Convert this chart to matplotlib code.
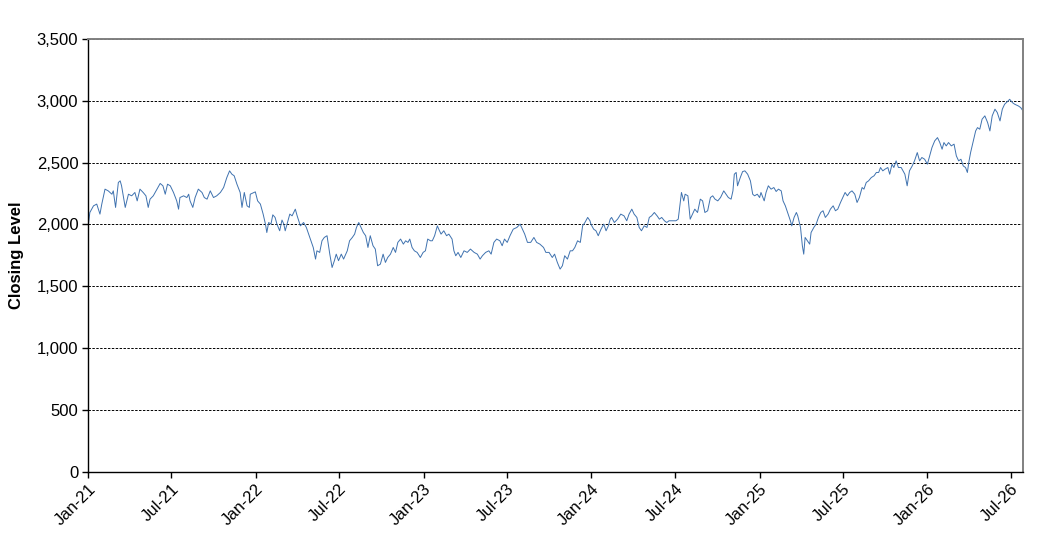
import matplotlib
matplotlib.use("Agg")
import matplotlib.pyplot as plt
from matplotlib.ticker import FuncFormatter
import pandas as pd
import numpy as np

plt.rcParams['font.family'] = ['Liberation Sans', 'DejaVu Sans']

start_date = "2021-01-01"
# days elapsed since start_date
days = [0, 4, 12, 19, 26, 30, 37, 44, 52, 55, 60, 66, 70, 73, 81, 88, 95, 102, 107, 113,
        120, 126, 131, 135, 142, 150, 157, 163, 168, 173, 179, 186, 193, 197, 200, 208, 215, 219, 222, 228,
        233, 240, 248, 253, 259, 266, 273, 280, 288, 295, 302, 308, 313, 318, 324, 331, 335, 340, 346, 351,
        353, 364, 369, 375, 381, 386, 389, 393, 398, 402, 407, 411, 417, 422, 426, 429, 434, 439, 444, 451,
        455, 462, 469, 475, 480, 485, 490, 495, 498, 504, 509, 514, 520, 526, 531, 536, 540, 545, 551, 556,
        564, 569, 575, 580, 584, 589, 594, 599, 604, 609, 614, 620, 625, 630, 636, 642, 647, 652, 658, 664,
        669, 674, 680, 686, 691, 696, 700, 705, 710, 716, 723, 729, 734, 739, 745,
        749, 754, 760, 763, 768, 774, 780, 785, 792, 796, 800, 805, 811, 818, 825, 832, 840, 847, 853, 858,
        865, 872, 877, 883, 889, 896, 901, 906, 912, 918, 925, 933, 940, 945, 950, 956, 963, 970, 976, 983,
        991, 996, 1003, 1010, 1015, 1021, 1027, 1032, 1037, 1043, 1049, 1054, 1059, 1065, 1071, 1076, 1081, 1087, 1092,
        1094, 1100, 1105, 1110, 1116, 1122, 1127, 1132, 1136, 1139, 1145, 1152, 1159, 1166, 1172, 1177, 1183, 1188, 1194, 1199,
        1204, 1210, 1216, 1221, 1226, 1232, 1238, 1243, 1248, 1254, 1259, 1264, 1272, 1279, 1284, 1288, 1291, 1296, 1299, 1305,
        1310, 1315, 1320, 1326, 1332, 1337, 1342, 1348, 1354, 1359, 1364, 1370, 1376, 1383, 1388, 1393, 1399, 1403, 1406, 1410,
        1413, 1419, 1424, 1429, 1435, 1441, 1446, 1450, 1456, 1461,
        1464, 1471, 1475, 1480, 1486, 1492, 1497, 1502, 1508, 1512, 1517, 1522, 1528, 1531, 1536, 1541, 1544, 1550, 1554, 1557,
        1560, 1565, 1570, 1573, 1579, 1584, 1589, 1594, 1599, 1604, 1610, 1615, 1621, 1626, 1631, 1637, 1642, 1647, 1652, 1657,
        1662, 1668, 1673, 1678, 1684, 1688, 1693, 1698, 1704, 1710, 1715, 1720, 1724, 1729, 1734, 1740, 1744, 1749, 1753, 1758,
        1763, 1769, 1777, 1782, 1787, 1793, 1798, 1804, 1809, 1814, 1820, 1826, 1831, 1836, 1842, 1848, 1853, 1858, 1862, 1867,
        1872, 1878, 1884, 1889, 1894, 1899, 1904, 1909, 1913, 1916, 1920, 1926, 1931, 1935, 1940, 1945, 1951, 1957, 1962, 1967,
        1973, 1978, 1984, 1989, 1994, 2000, 2005, 2011, 2016, 2024, 2029, 2034]

closing = [1975, 2096, 2150, 2164, 2083, 2164, 2285, 2271, 2244, 2271, 2137, 2339, 2352, 2312, 2137, 2244, 2231, 2258, 2190, 2285,
           2258, 2231, 2137, 2204, 2231, 2285, 2331, 2312, 2244, 2325, 2312, 2258, 2190, 2123, 2217, 2231, 2217, 2244, 2190, 2137,
           2217, 2285, 2258, 2217, 2204, 2271, 2217, 2231, 2258, 2298, 2379, 2433, 2406, 2393, 2325, 2258, 2137, 2258, 2150, 2137,
           2244, 2263, 2190, 2164, 2083, 2002, 1934, 2015, 2002, 2077, 2056, 2002, 1948, 2035, 2002, 1948, 2015, 2083, 2069, 2123,
           2069, 1988, 2015, 1975, 1921, 1867, 1813, 1719, 1786, 1773, 1867, 1894, 1908, 1759, 1651, 1706, 1759, 1706, 1759, 1719,
           1786, 1867, 1894, 1921, 1975, 2015, 1975, 1934, 1908, 1813, 1908, 1827, 1800, 1665, 1678, 1759, 1692, 1732, 1759, 1813,
           1773, 1854, 1881, 1840, 1867, 1854, 1881, 1813, 1786, 1773, 1732, 1773, 1786, 1881, 1867,
           1867, 1908, 1988, 1961, 1921, 1948, 1908, 1921, 1881, 1786, 1746, 1773, 1732, 1786, 1773, 1800, 1773, 1759, 1719, 1746,
           1773, 1786, 1759, 1854, 1881, 1867, 1827, 1881, 1854, 1908, 1961, 1975, 2002, 1961, 1921, 1854, 1854, 1894, 1854, 1840,
           1813, 1773, 1773, 1732, 1759, 1692, 1638, 1665, 1746, 1719, 1786, 1786, 1813, 1867, 1854, 1988, 2015, 2056, 2029,
           2002, 1961, 1948, 1908, 1961, 2002, 1948, 1988, 2042, 2056, 2015, 2042, 2083, 2069, 2029, 2083, 2123, 2083, 2056, 1975,
           1948, 1988, 1975, 2056, 2069, 2096, 2069, 2042, 2056, 2029, 2015, 2029, 2029, 2029, 2042, 2164, 2258, 2190, 2244, 2231,
           2042, 2083, 2123, 2096, 2204, 2190, 2096, 2110, 2217, 2231, 2204, 2190, 2217, 2271, 2244, 2217, 2204, 2271, 2406, 2420,
           2312, 2379, 2427, 2433, 2406, 2352, 2244, 2231, 2244, 2217,
           2258, 2190, 2258, 2312, 2285, 2298, 2266, 2285, 2271, 2190, 2150, 2096, 2029, 1988, 2056, 2096, 2069, 1975, 1827, 1759,
           1894, 1867, 1840, 1934, 1975, 2002, 2056, 2096, 2110, 2056, 2083, 2123, 2150, 2110, 2123, 2177, 2217, 2258, 2231, 2258,
           2271, 2244, 2177, 2217, 2298, 2285, 2339, 2352, 2379, 2393, 2420, 2420, 2460, 2433, 2447, 2460, 2406, 2487, 2460, 2514,
           2460, 2460, 2406, 2312, 2433, 2473, 2514, 2581, 2514, 2541, 2527, 2487, 2554, 2622, 2676, 2702, 2662, 2608, 2662, 2635,
           2662, 2635, 2649, 2554, 2514, 2527, 2473, 2460, 2420, 2500, 2581, 2676, 2756, 2783, 2770, 2851, 2878, 2824, 2756, 2878,
           2932, 2905, 2837, 2932, 2972, 2993, 3012, 2985, 2972, 2958, 2945, 2918]

tick_dates = ["2021-01-01", "2021-07-01", "2022-01-01", "2022-07-01", "2023-01-01", "2023-07-01",
              "2024-01-01", "2024-07-01", "2025-01-01", "2025-07-01", "2026-01-01", "2026-07-01"]
tick_labels = ["Jan-21", "Jul-21", "Jan-22", "Jul-22", "Jan-23", "Jul-23",
               "Jan-24", "Jul-24", "Jan-25", "Jul-25", "Jan-26", "Jul-26"]
y_ticks = [0, 500, 1000, 1500, 2000, 2500, 3000, 3500]

dates = pd.Timestamp(start_date) + pd.to_timedelta(np.array(days), unit="D")

fig = plt.figure(figsize=(10.48, 5.42), dpi=100)
ax = fig.add_axes([88/1048, 1 - 471.5/542, (1023 - 88)/1048, (471.5 - 39)/542])

ax.plot(dates, closing, color="#3F72AF", linewidth=0.7)

ax.set_ylim(0, 3500)
ax.set_yticks(y_ticks)
ax.yaxis.set_major_formatter(FuncFormatter(lambda v, p: f"{int(v):,}"))
ax.set_xlim(pd.Timestamp(start_date), pd.Timestamp(start_date) + pd.Timedelta(days=days[-1]))
ax.set_xticks(pd.to_datetime(tick_dates))
ax.set_xticklabels(tick_labels, rotation=45, ha="right", rotation_mode="anchor")

ax.grid(axis="y", color="black", linestyle=(0, (2.5, 1.5)), linewidth=0.7)
ax.set_axisbelow(True)

for s in ["left", "bottom"]:
    ax.spines[s].set_color("black")
    ax.spines[s].set_linewidth(1.0)
for s in ["top", "right"]:
    ax.spines[s].set_color("#808080")
    ax.spines[s].set_linewidth(1.4)

ax.tick_params(axis="both", direction="out", length=4, width=1, labelsize=12, colors="black", pad=3)
ax.set_ylabel("Closing Level", fontsize=12, fontweight="bold", labelpad=9)

fig.savefig("out.png", dpi=100)
